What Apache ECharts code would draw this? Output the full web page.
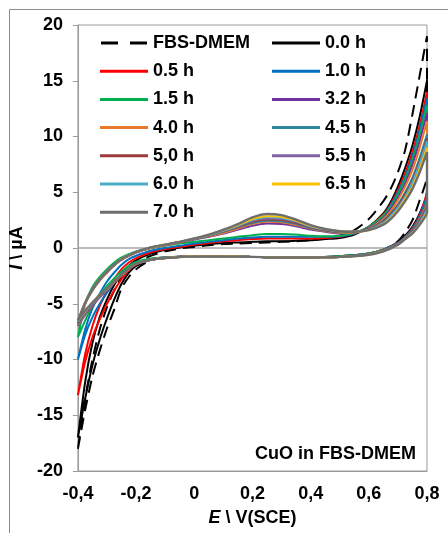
<!DOCTYPE html>
<html>
<head>
<meta charset="utf-8">
<script src="https://cdn.jsdelivr.net/npm/echarts@6/dist/echarts.min.js"></script>
<style>
html,body{margin:0;padding:0;background:#fff;}
#chart{width:448px;height:533px;}
</style>
</head>
<body>
<div id="chart"></div>
<script>
// Potential grids (V vs SCE)
const E_fwd = [-0.4,-0.375,-0.35,-0.325,-0.3,-0.275,-0.25,-0.225,-0.2,-0.15,-0.1,0,0.1,0.2,0.3,0.4,0.5,0.6,0.65,0.7,0.725,0.75,0.775,0.8];
const E_rev = [0.8,0.775,0.75,0.725,0.7,0.675,0.65,0.6,0.55,0.5,0.45,0.4,0.35,0.3,0.25,0.2,0.15,0.1,0.05,0,-0.05,-0.1,-0.15,-0.2,-0.225,-0.25,-0.275,-0.3,-0.325,-0.35,-0.375,-0.4];

const names = ['FBS-DMEM','0.0 h','0.5 h','1.0 h','1.5 h','3.2 h','4.0 h','4.5 h','5,0 h','5.5 h','6.0 h','6.5 h','7.0 h'];
const colors = ['#000000','#000000','#FF0000','#0070C0','#00B050','#7030A0','#E8782A','#31859C','#9B3B3A','#8064A2','#4BACC6','#FFC000','#6E6E6E'];

// Current (µA) on the forward (lower) branch
const I_fwd_FBS = [-18,-14.5,-11.5,-9.2,-7.2,-5.5,-3.6,-2.6,-1.9,-1.1,-0.9,-0.75,-0.75,-0.8,-0.85,-0.85,-0.8,-0.55,-0.2,0.6,1.4,2.5,4.3,6.5];
const I_fwd_00 = [-17,-13.5,-10.5,-8.2,-6.3,-4.6,-3.2,-2.2,-1.6,-1.05,-0.9,-0.75,-0.75,-0.8,-0.85,-0.85,-0.75,-0.5,-0.15,0.5,1.1,1.9,3.1,5.0];
const I_fwd_05 = [-13.2,-10.2,-8.0,-6.4,-5.0,-3.8,-2.8,-2.0,-1.5,-1.0,-0.85,-0.75,-0.75,-0.8,-0.85,-0.85,-0.75,-0.5,-0.15,0.45,1.0,1.8,3.0,5.2];
const I_fwd_10 = [-10,-7.8,-6.2,-5.0,-4.0,-3.1,-2.4,-1.8,-1.4,-1.0,-0.85,-0.75,-0.75,-0.8,-0.85,-0.85,-0.75,-0.5,-0.15,0.45,1.0,1.7,2.9,4.9];
const I_fwd_15 = [-8,-6.5,-5.2,-4.2,-3.4,-2.7,-2.1,-1.6,-1.25,-0.95,-0.85,-0.75,-0.75,-0.8,-0.85,-0.85,-0.75,-0.5,-0.15,0.4,0.95,1.6,2.7,4.6];
const I_fwd_32 = [-7.0,-6.0,-5.2,-4.45,-3.8,-3.1,-2.5,-1.9,-1.45,-1.05,-0.9,-0.75,-0.75,-0.8,-0.85,-0.85,-0.8,-0.55,-0.2,0.4,0.95,1.55,2.7,4.4];
const I_fwd_40 = [-6.9,-5.9,-5.1,-4.4,-3.75,-3.1,-2.5,-1.9,-1.45,-1.05,-0.9,-0.75,-0.75,-0.8,-0.85,-0.85,-0.8,-0.55,-0.22,0.38,0.9,1.5,2.6,4.2];
const I_fwd_45 = [-6.8,-5.85,-5.05,-4.35,-3.7,-3.05,-2.45,-1.9,-1.45,-1.05,-0.9,-0.75,-0.75,-0.8,-0.85,-0.85,-0.8,-0.57,-0.24,0.36,0.88,1.45,2.5,4.0];
const I_fwd_50 = [-6.7,-5.8,-5.0,-4.3,-3.7,-3.05,-2.45,-1.9,-1.45,-1.05,-0.9,-0.75,-0.75,-0.8,-0.85,-0.85,-0.8,-0.57,-0.25,0.34,0.86,1.4,2.4,3.8];
const I_fwd_55 = [-6.6,-5.75,-5.0,-4.3,-3.65,-3.0,-2.45,-1.9,-1.4,-1.05,-0.9,-0.75,-0.75,-0.8,-0.85,-0.85,-0.8,-0.58,-0.27,0.33,0.84,1.37,2.3,3.7];
const I_fwd_60 = [-6.6,-5.7,-4.95,-4.25,-3.65,-3.0,-2.4,-1.85,-1.4,-1.05,-0.9,-0.75,-0.75,-0.8,-0.85,-0.85,-0.8,-0.58,-0.28,0.32,0.83,1.35,2.25,3.6];
const I_fwd_65 = [-6.5,-5.65,-4.9,-4.2,-3.6,-3.0,-2.4,-1.85,-1.4,-1.05,-0.9,-0.75,-0.75,-0.8,-0.85,-0.85,-0.8,-0.6,-0.29,0.31,0.81,1.32,2.15,3.4];
const I_fwd_70 = [-6.5,-5.6,-4.9,-4.2,-3.6,-3.0,-2.4,-1.85,-1.4,-1.05,-0.9,-0.75,-0.75,-0.8,-0.85,-0.85,-0.8,-0.6,-0.3,0.3,0.8,1.3,2.1,3.2];

// Current (µA) on the reverse (upper) branch
const I_rev_FBS = [19,15.5,12,8.8,6.8,5.3,4.2,2.6,1.6,1.1,0.85,0.7,0.6,0.55,0.5,0.45,0.4,0.35,0.25,0.1,-0.05,-0.3,-0.7,-1.4,-1.9,-2.6,-3.8,-5.3,-7.3,-10,-13.5,-18];
const I_rev_00 = [15,11.8,9.2,7.2,5.5,4.1,3.1,1.9,1.2,0.9,0.8,0.7,0.65,0.6,0.6,0.55,0.5,0.45,0.35,0.2,0.05,-0.15,-0.5,-1.1,-1.6,-2.3,-3.3,-4.6,-6.2,-8.5,-12,-17];
const I_rev_05 = [14,11,8.6,6.7,5.2,3.9,3.0,1.9,1.3,1.0,0.9,0.85,0.85,0.85,0.85,0.8,0.7,0.6,0.45,0.3,0.1,-0.1,-0.4,-0.9,-1.3,-1.9,-2.8,-3.9,-5.2,-7.0,-9.5,-13.2];
const I_rev_10 = [13.4,10.6,8.2,6.4,5.0,3.8,2.9,1.9,1.3,1.05,1.0,1.0,1.0,1.0,1.0,0.95,0.85,0.7,0.55,0.4,0.2,0,-0.25,-0.7,-1.0,-1.5,-2.2,-3.0,-4.1,-5.4,-7.3,-10];
const I_rev_15 = [12.8,10.2,7.9,6.2,4.8,3.7,2.9,1.9,1.35,1.1,1.05,1.1,1.2,1.25,1.25,1.15,1.0,0.85,0.7,0.55,0.4,0.2,0.0,-0.3,-0.55,-0.85,-1.3,-1.9,-2.6,-3.5,-5.0,-8];
const I_rev_32 = [12.1,9.6,7.5,5.8,4.5,3.5,2.7,1.8,1.4,1.3,1.45,1.65,1.95,2.15,2.2,2.0,1.65,1.3,1.0,0.75,0.5,0.25,0.0,-0.4,-0.7,-1.05,-1.55,-2.2,-2.9,-3.8,-5.0,-7.0];
const I_rev_40 = [11.4,9.0,7.0,5.5,4.3,3.3,2.6,1.75,1.4,1.35,1.5,1.75,2.05,2.3,2.35,2.15,1.75,1.35,1.05,0.8,0.5,0.25,0.0,-0.4,-0.7,-1.05,-1.55,-2.2,-2.9,-3.8,-5.0,-6.9];
const I_rev_45 = [10.2,8.1,6.3,5.0,3.9,3.1,2.45,1.7,1.45,1.4,1.55,1.8,2.15,2.4,2.45,2.25,1.85,1.45,1.1,0.8,0.55,0.28,0.02,-0.38,-0.68,-1.02,-1.52,-2.15,-2.85,-3.75,-4.9,-6.8];
const I_rev_50 = [9.8,7.8,6.1,4.8,3.8,3.0,2.4,1.7,1.45,1.45,1.6,1.85,2.25,2.5,2.55,2.35,1.9,1.5,1.1,0.82,0.55,0.3,0.03,-0.37,-0.67,-1.0,-1.5,-2.12,-2.82,-3.72,-4.9,-6.7];
const I_rev_55 = [9.5,7.5,5.9,4.6,3.7,2.9,2.3,1.65,1.45,1.45,1.65,1.9,2.35,2.6,2.65,2.45,1.95,1.55,1.15,0.83,0.55,0.3,0.04,-0.36,-0.66,-1.0,-1.5,-2.1,-2.8,-3.7,-4.9,-6.6];
const I_rev_60 = [9.6,7.6,5.9,4.6,3.6,2.85,2.25,1.65,1.45,1.5,1.65,1.95,2.4,2.7,2.75,2.5,2.0,1.55,1.15,0.84,0.55,0.3,0.05,-0.35,-0.65,-1.0,-1.5,-2.1,-2.8,-3.7,-4.9,-6.6];
const I_rev_65 = [9.0,7.1,5.5,4.4,3.4,2.7,2.15,1.6,1.45,1.5,1.7,2.0,2.45,2.8,2.85,2.6,2.05,1.6,1.2,0.85,0.55,0.3,0.05,-0.35,-0.65,-1.0,-1.5,-2.1,-2.8,-3.7,-4.9,-6.5];
const I_rev_70 = [8.6,6.8,5.3,4.2,3.3,2.6,2.1,1.6,1.45,1.5,1.7,2.05,2.55,2.95,3.05,2.75,2.15,1.65,1.2,0.85,0.55,0.3,0.05,-0.35,-0.65,-1.0,-1.5,-2.1,-2.8,-3.7,-4.9,-6.5];

const fwdSets = [I_fwd_FBS,I_fwd_00,I_fwd_05,I_fwd_10,I_fwd_15,I_fwd_32,I_fwd_40,I_fwd_45,I_fwd_50,I_fwd_55,I_fwd_60,I_fwd_65,I_fwd_70];
const revSets = [I_rev_FBS,I_rev_00,I_rev_05,I_rev_10,I_rev_15,I_rev_32,I_rev_40,I_rev_45,I_rev_50,I_rev_55,I_rev_60,I_rev_65,I_rev_70];

const xTicks = ['-0,4','-0,2','0','0,2','0,4','0,6','0,8'];
const yTicks = ['-20','-15','-10','-5','0','5','10','15','20'];

const FONT = 'Liberation Sans, Arial, sans-serif';
const DASH_ICON = 'path://M0,0H17V3H0Z M29,0H46V3H29Z';

function loop(i){
  const d = [];
  E_fwd.forEach((e,k)=>d.push([e, fwdSets[i][k]]));
  E_rev.forEach((e,k)=>d.push([e, revSets[i][k]]));
  d.push([E_fwd[0], fwdSets[i][0]]);
  return d;
}

const series = names.map((n,i)=>({
  name: n,
  type: 'line',
  data: loop(i),
  showSymbol: false,
  symbol: 'none',
  smooth: 0.25,
  z: 3,
  lineStyle: { color: colors[i], width: i===12 ? 2.4 : 2, type: i===0 ? [12,7] : 'solid' },
  itemStyle: { color: colors[i] },
  emphasis: { disabled: true },
  markLine: i===0 ? {
    silent: true, symbol: ['none','none'], label: {show:false},
    lineStyle: { color: '#a6a6a6', width: 1.5, type: 'solid' },
    data: [{ yAxis: 0 }], z: 1
  } : undefined
}));

const col1 = ['FBS-DMEM','0.5 h','1.5 h','4.0 h','5,0 h','6.0 h','7.0 h'];
const col2 = ['0.0 h','1.0 h','3.2 h','4.5 h','5.5 h','6.5 h'];
function legendCol(left, data){
  return {
    orient: 'vertical', left: left, top: 34,
    data: data.map(n => ({ name: n, icon: n === 'FBS-DMEM' ? DASH_ICON : 'rect' })),
    itemWidth: 48, itemHeight: 3, itemGap: 10.2,
    padding: 0,
    textStyle: { fontFamily: FONT, fontWeight: 'bold', fontSize: 18, color: '#000', lineHeight: 18 },
    selectedMode: false
  };
}

const chart = echarts.init(document.getElementById('chart'), null, {renderer:'canvas'});
chart.setOption({
  animation: false,
  backgroundColor: '#fff',
  grid: { left: 73, top: 25, right: 21, bottom: 62, show: true, borderColor: '#9a9a9a', borderWidth: 1 },
  legend: [legendCol(100, col1), legendCol(272, col2)],
  xAxis: {
    type: 'value', min: -0.4, max: 0.8, interval: 0.2,
    axisLine: { show: true, onZero: false, lineStyle: { color: '#9a9a9a', width: 1 } },
    axisTick: { show: false },
    splitLine: { show: false },
    axisLabel: { margin: 14, color: '#000', fontFamily: FONT, fontWeight: 'bold', fontSize: 18,
      formatter: v => xTicks[Math.round((v + 0.4) / 0.2)] },
    name: '{i|E} \\ V(SCE)', nameLocation: 'middle', nameGap: 38,
    nameTextStyle: { color: '#000', fontFamily: FONT, fontWeight: 'bold', fontSize: 18,
      rich: { i: { fontStyle: 'italic', fontWeight: 'bold', fontFamily: FONT, fontSize: 18, color: '#000' } } }
  },
  yAxis: {
    type: 'value', min: -20, max: 20, interval: 5,
    axisLine: { show: true, onZero: false, lineStyle: { color: '#9a9a9a', width: 1 } },
    axisTick: { show: true, inside: false, length: 5, lineStyle: { color: '#9a9a9a' } },
    splitLine: { show: false },
    axisLabel: { margin: 15, color: '#000', fontFamily: FONT, fontWeight: 'bold', fontSize: 18,
      formatter: v => yTicks[Math.round((v + 20) / 5)] },
    name: '{i|I} \\ µA', nameLocation: 'middle', nameGap: 31, nameRotate: 90,
    nameTextStyle: { color: '#000', fontFamily: FONT, fontWeight: 'bold', fontSize: 18,
      rich: { i: { fontStyle: 'italic', fontWeight: 'bold', fontFamily: FONT, fontSize: 18, color: '#000' } } }
  },
  graphic: [
    { type: 'rect', silent: true, z: -10,
      shape: { x: 9.5, y: 9.5, width: 470, height: 560 }, style: { fill: 'none', stroke: '#8c8c8c', lineWidth: 1 } },
    { type: 'text', right: 32, top: 445, silent: true, z: 10,
      style: { text: 'CuO in FBS-DMEM', fill: '#000', font: 'bold 18px ' + FONT } }
  ],
  series: series
});
</script>
</body>
</html>
